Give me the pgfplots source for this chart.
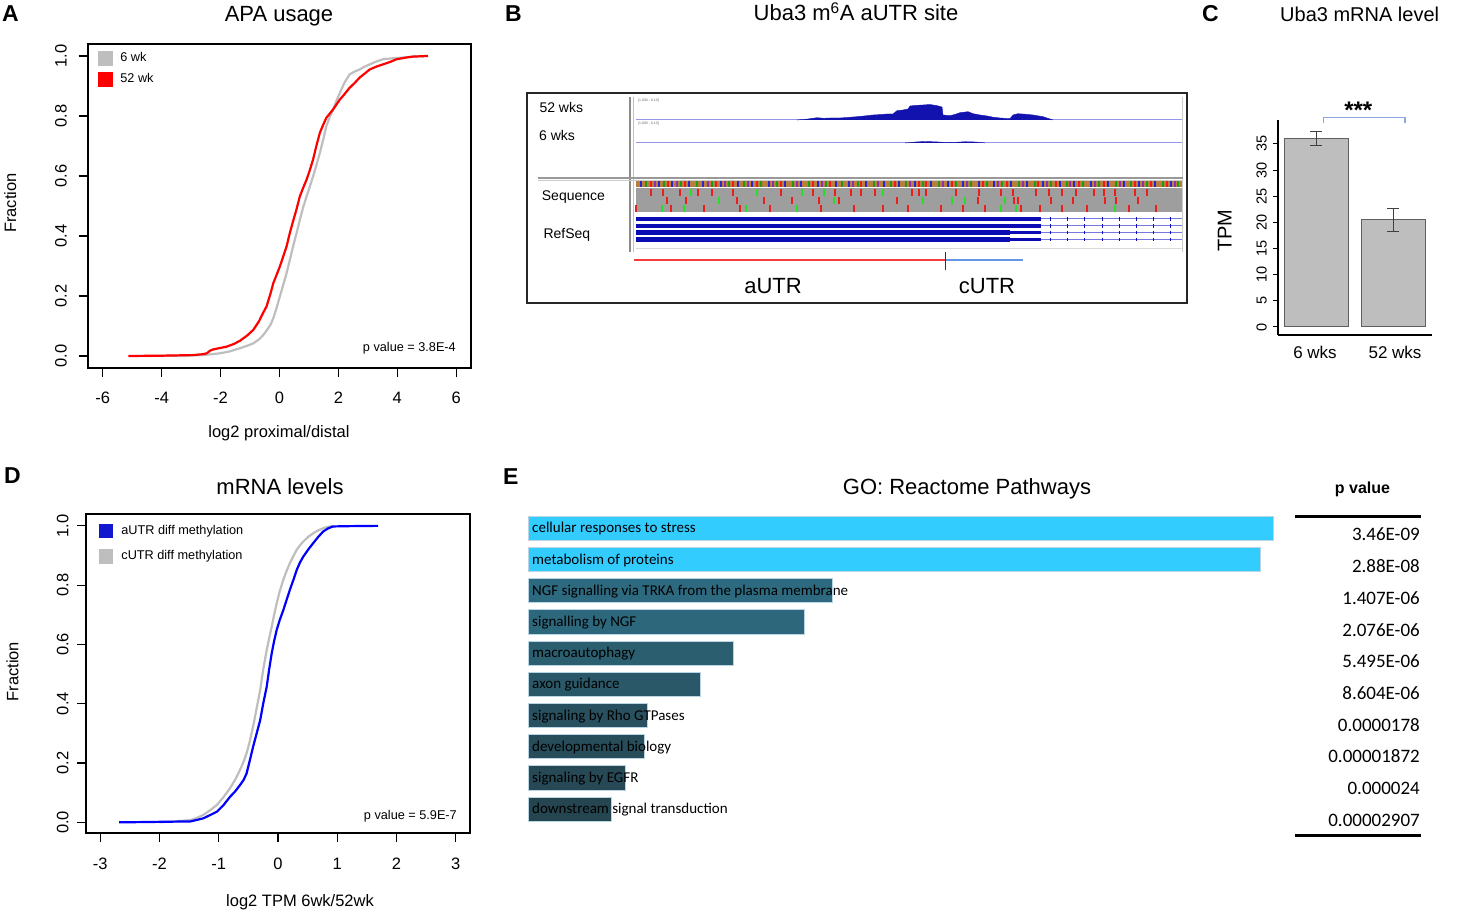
\documentclass[border=0pt]{standalone}
\usepackage{pgfplots}
\pgfplotsset{compat=1.18}
\usepackage{fontspec}
\setmainfont{Liberation Sans}
\newfontfamily\carlito{Carlito}
\newcommand\fs[1]{\fontsize{#1}{#1}\selectfont}
\definecolor{rgray}{RGB}{190,190,190}
\definecolor{rred}{RGB}{255,0,0}
\definecolor{rblue}{RGB}{0,0,255}
\definecolor{sqblue}{RGB}{18,24,205}
\definecolor{covblue}{RGB}{18,18,175}
\definecolor{trackline}{RGB}{150,150,235}
\definecolor{refblue}{RGB}{12,12,180}
\definecolor{refthin}{RGB}{120,120,225}
\definecolor{seqgray}{RGB}{158,158,158}
\definecolor{stripbase}{RGB}{185,125,60}
\definecolor{sred}{RGB}{235,30,30}
\definecolor{sgreen}{RGB}{40,220,40}
\definecolor{sblue}{RGB}{40,40,210}
\definecolor{spurple}{RGB}{140,50,170}
\definecolor{autrred}{RGB}{245,60,60}
\definecolor{cutrblue}{RGB}{100,150,230}
\definecolor{bracketblue}{RGB}{140,170,225}
\definecolor{barfill}{RGB}{190,190,190}
\definecolor{bardraw}{RGB}{95,95,95}
\definecolor{cyanbar}{RGB}{51,204,255}
\definecolor{barline}{RGB}{185,212,226}
\definecolor{tA}{RGB}{45,106,128}
\definecolor{tB}{RGB}{45,103,124}
\definecolor{tC}{RGB}{43,94,111}
\definecolor{tD}{RGB}{42,88,104}
\definecolor{tE}{RGB}{40,80,94}
\definecolor{tF}{RGB}{39,77,90}
\definecolor{tG}{RGB}{38,73,85}
\definecolor{tH}{RGB}{37,69,80}
\begin{document}
\begin{tikzpicture}
\path[use as bounding box] (0pt,0pt) rectangle (1459pt,912pt);

% ---------------- Panel A ----------------
\begin{axis}[at={(88pt,544pt)}, anchor=south west, scale only axis,
  width=383pt, height=324pt,
  xmin=-6.5, xmax=6.5, ymin=-0.04, ymax=1.04,
  xtick={-6,-4,-2,0,2,4,6}, ytick={0,0.2,0.4,0.6,0.8,1},
  xticklabels={}, yticklabels={},
  xtick pos=bottom, ytick pos=left, tick align=outside, major tick length=9.5pt,
  every tick/.style={black, line width=1.2pt},
  axis line style={black, line width=1.2pt},
  legend style={at={(axis cs:-6.1504,1.0153)}, anchor=north west, draw=none, fill=none,
    inner sep=0pt, outer sep=0pt, font=\fs{12.7}, row sep=7.3pt,
    nodes={inner sep=0pt, text depth=0pt, anchor=base west},
    cells={anchor=base west},
    /tikz/every odd column/.append style={column sep=8.4pt}},
  legend image code/.code={\fill (0pt,-3pt) rectangle (13.3pt,10.3pt);},
  legend cell align=left]
\addlegendimage{color=rgray}
\addlegendentry{6 wk}
\addlegendimage{color=rred}
\addlegendentry{52 wk}
\addplot[color=rgray, line width=2.2pt, forget plot] coordinates {
(-4.9,0)(-3.2,0.001)(-2.6,0.003)(-2.3,0.006)(-2.02,0.009)(-1.7,0.015)(-1.34,0.026)(-1.1,0.034)(-0.89,0.042)(-0.7,0.055)(-0.55,0.07)(-0.4,0.09)(-0.3,0.105)(-0.21,0.126)(-0.1,0.16)(0.01,0.198)(0.12,0.235)(0.24,0.276)(0.35,0.32)(0.46,0.365)(0.58,0.41)(0.69,0.454)(0.8,0.495)(0.92,0.532)(1.03,0.565)(1.14,0.599)(1.25,0.635)(1.37,0.677)(1.48,0.72)(1.59,0.766)(1.7,0.795)(1.82,0.822)(1.93,0.85)(2.05,0.877)(2.2,0.91)(2.38,0.939)(2.55,0.948)(2.72,0.955)(2.9,0.965)(3.06,0.972)(3.3,0.982)(3.51,0.989)(3.8,0.992)(4.08,0.994)(4.53,0.998)(5.0,1.0)};
\addplot[color=rred, line width=2.2pt, forget plot] coordinates {
(-5.13,0)(-4.0,0.001)(-2.93,0.003)(-2.6,0.006)(-2.47,0.009)(-2.35,0.018)(-2.25,0.022)(-2.0,0.027)(-1.8,0.031)(-1.55,0.04)(-1.34,0.051)(-1.1,0.068)(-0.89,0.087)(-0.7,0.115)(-0.55,0.145)(-0.44,0.165)(-0.3,0.21)(-0.21,0.243)(-0.1,0.27)(0.01,0.298)(0.12,0.33)(0.24,0.365)(0.35,0.41)(0.46,0.449)(0.58,0.49)(0.69,0.532)(0.8,0.56)(0.92,0.588)(1.03,0.62)(1.14,0.655)(1.25,0.7)(1.37,0.744)(1.48,0.77)(1.59,0.794)(1.82,0.822)(2.05,0.855)(2.2,0.872)(2.38,0.894)(2.55,0.91)(2.72,0.928)(2.9,0.942)(3.06,0.955)(3.3,0.965)(3.51,0.972)(3.75,0.98)(3.97,0.989)(4.25,0.994)(4.53,0.998)(5.04,1.0)};
\end{axis}

% ---------------- Panel D ----------------
\begin{axis}[at={(86pt,79pt)}, anchor=south west, scale only axis,
  width=384pt, height=319pt,
  xmin=-3.24, xmax=3.24, ymin=-0.036, ymax=1.04,
  xtick={-3,-2,-1,0,1,2,3}, ytick={0,0.2,0.4,0.6,0.8,1},
  xticklabels={}, yticklabels={},
  xtick pos=bottom, ytick pos=left, tick align=outside, major tick length=9pt,
  every tick/.style={black, line width=1.2pt},
  axis line style={black, line width=1.2pt},
  legend style={at={(axis cs:-3.0206,1.0073)}, anchor=north west, draw=none, fill=none,
    inner sep=0pt, outer sep=0pt, font=\fs{12.7}, row sep=12pt,
    nodes={inner sep=0pt, text depth=0pt, anchor=base west},
    cells={anchor=base west},
    /tikz/every odd column/.append style={column sep=8.7pt}},
  legend image code/.code={\fill (0pt,-3pt) rectangle (13.3pt,10.3pt);},
  legend cell align=left]
\addlegendimage{color=sqblue}
\addlegendentry{aUTR diff methylation}
\addlegendimage{color=rgray}
\addlegendentry{cUTR diff methylation}
\addplot[color=rgray, line width=2.2pt, forget plot] coordinates {
(-2.0,0)(-1.76,0.003)(-1.48,0.0075)(-1.37,0.015)(-1.26,0.025)(-1.15,0.04)(-1.03,0.059)(-0.92,0.085)(-0.81,0.115)(-0.72,0.145)(-0.64,0.177)(-0.58,0.205)(-0.53,0.233)(-0.48,0.27)(-0.42,0.323)(-0.36,0.385)(-0.30,0.447)(-0.25,0.515)(-0.19,0.582)(-0.15,0.62)(-0.106,0.66)(-0.065,0.70)(-0.022,0.739)(0.03,0.78)(0.09,0.818)(0.145,0.848)(0.2,0.874)(0.26,0.898)(0.315,0.919)(0.37,0.934)(0.426,0.947)(0.51,0.963)(0.595,0.975)(0.68,0.985)(0.763,0.992)(0.85,0.997)(0.93,1.0)};
\addplot[color=rblue, line width=2.2pt, forget plot] coordinates {
(-2.68,0)(-2.2,0.001)(-1.88,0.002)(-1.48,0.003)(-1.37,0.008)(-1.26,0.0135)(-1.15,0.024)(-1.03,0.036)(-0.92,0.058)(-0.81,0.086)(-0.72,0.105)(-0.64,0.126)(-0.58,0.143)(-0.53,0.165)(-0.48,0.205)(-0.42,0.255)(-0.36,0.3)(-0.30,0.345)(-0.25,0.4)(-0.19,0.458)(-0.15,0.515)(-0.106,0.570)(-0.065,0.612)(-0.022,0.649)(0.03,0.683)(0.09,0.716)(0.145,0.75)(0.2,0.784)(0.26,0.818)(0.315,0.851)(0.37,0.876)(0.426,0.896)(0.51,0.92)(0.595,0.942)(0.68,0.963)(0.763,0.981)(0.85,0.992)(0.93,0.998)(1.2,0.999)(1.69,1.0)};
\end{axis}

% ---------------- Panel C ----------------
\begin{axis}[at={(1278.3pt,577pt)}, anchor=south west, scale only axis,
  width=153.4pt, height=215pt,
  xmin=0.51, xmax=2.497, ymin=-1.53, ymax=39.58,
  axis x line=bottom, axis y line=left,
  axis line style={-, black, line width=1.8pt},
  xtick=\empty, ytick={0,5,10,15,20,25,30,35}, yticklabels={},
  tick align=outside, major tick length=5.7pt,
  every tick/.style={black, line width=1pt}]
\addplot[ybar, bar width=64pt, bar shift=0pt, fill=barfill, draw=bardraw, line width=1pt,
  error bars/.cd, y dir=both, y explicit, error mark=-,
  error bar style={line width=1pt, black!75},
  error mark options={rotate=90, line width=1pt, black!75, mark size=6pt}]
  coordinates {(1,36.1) +- (0,1.35) (2,20.5) +- (0,2.25)};
\end{axis}

% ---------------- Panel E ----------------
\begin{axis}[at={(903.5pt,243.3pt)}, anchor=center, scale only axis,
  width=750pt, height=312pt,
  xmin=0, xmax=750, ymin=-0.5, ymax=9.5, y dir=reverse,
  axis lines=none, clip=false]
\addplot[xbar, bar width=24.3pt, bar shift=0pt, fill=cyanbar, draw=barline, line width=0.8pt] coordinates {(744.5,0)(731.5,1)};
\addplot[xbar, bar width=24.3pt, bar shift=0pt, fill=tA, draw=barline, line width=0.8pt] coordinates {(304,2)};
\addplot[xbar, bar width=24.3pt, bar shift=0pt, fill=tB, draw=barline, line width=0.8pt] coordinates {(275.5,3)};
\addplot[xbar, bar width=24.3pt, bar shift=0pt, fill=tC, draw=barline, line width=0.8pt] coordinates {(205,4)};
\addplot[xbar, bar width=24.3pt, bar shift=0pt, fill=tD, draw=barline, line width=0.8pt] coordinates {(172,5)};
\addplot[xbar, bar width=24.3pt, bar shift=0pt, fill=tE, draw=barline, line width=0.8pt] coordinates {(119,6)};
\addplot[xbar, bar width=24.3pt, bar shift=0pt, fill=tF, draw=barline, line width=0.8pt] coordinates {(115.5,7)};
\addplot[xbar, bar width=24.3pt, bar shift=0pt, fill=tG, draw=barline, line width=0.8pt] coordinates {(97,8)};
\addplot[xbar, bar width=24.3pt, bar shift=0pt, fill=tH, draw=barline, line width=0.8pt] coordinates {(83,9)};
\end{axis}

% ---------------- Panel B (genome browser view), image pixel coordinates ----------------
\begin{axis}[at={(729.5pt,456pt)}, anchor=center, scale only axis,
  width=1459pt, height=912pt,
  xmin=0, xmax=1459, ymin=0, ymax=912, y dir=reverse,
  axis lines=none, clip=false]
\draw[black!85, line width=1.8pt] (axis cs:527,93) rectangle (axis cs:1187,303);
\draw[black!45, line width=1.2pt] (axis cs:630,97) -- (axis cs:630,252);
\draw[black!25, line width=0.8pt] (axis cs:633,97) -- (axis cs:633,252);
\draw[black!20, line width=0.8pt] (axis cs:1182,97) -- (axis cs:1182,252);
\draw[black!40, line width=1.2pt] (axis cs:538,178) -- (axis cs:1183,178);
\draw[black!20, line width=0.8pt] (axis cs:538,180.3) -- (axis cs:1183,180.3);
\draw[black!15, line width=0.8pt] (axis cs:636,248) -- (axis cs:1182,248);
% coverage tracks
\addplot[trackline, line width=1pt] coordinates {(636,120)(1182,120)};
\addplot[trackline, line width=1pt] coordinates {(636,143)(1182,143)};
\addplot[fill=covblue, draw=covblue, line width=0.4pt] coordinates {
(797,120)(808,119)(817,117.7)(824,118.3)(830,118)(840,118)(848,117.4)(857,116.7)(866,115.8)(873,115)(880,114.6)(887,114)(893,114)(897,110.7)(903,110)(908,109)(910,106)(916,105.4)(923,105)(930,104.5)(937,105.7)(942,107)(943,115)(950,115.7)(955,114.4)(960,112.7)(968,111.7)(973,113.7)(980,115)(987,116)(993,117.2)(1000,118)(1010,118.7)(1013,115)(1018,113.7)(1025,114.2)(1033,115)(1043,116.7)(1050,119)(1053,120)};
\addplot[fill=covblue, draw=covblue, line width=0.4pt] coordinates {
(905,143)(912,142.4)(917,141.9)(925,141.5)(937,141.9)(945,142.5)(958,142.2)(965,141.7)(975,142)(982,142.6)(985,143)};
% sequence track
\fill[stripbase] (axis cs:636,181.5) rectangle (axis cs:1182,187.5);
\fill[seqgray] (axis cs:636,188.5) rectangle (axis cs:1182,212);
\addplot[only marks, mark=|, mark size=3pt, color=sblue, mark options={line width=1.6pt}] coordinates {
(641,184.5)(659,184.5)(672,184.5)(689,184.5)(703,184.5)(721,184.5)(738,184.5)(752,184.5)(769,184.5)(785,184.5)(801,184.5)(818,184.5)(836,184.5)(849,184.5)(866,184.5)(884,184.5)(899,184.5)(915,184.5)(931,184.5)(948,184.5)(963,184.5)(979,184.5)(994,184.5)(1011,184.5)(1027,184.5)(1043,184.5)(1060,184.5)(1074,184.5)(1091,184.5)(1108,184.5)(1124,184.5)(1139,184.5)(1155,184.5)(1171,184.5)};
\addplot[only marks, mark=|, mark size=3pt, color=sgreen!70!black, mark options={line width=1.6pt}] coordinates {
(646,184.5)(664,184.5)(681,184.5)(697,184.5)(712,184.5)(729,184.5)(744,184.5)(761,184.5)(777,184.5)(793,184.5)(809,184.5)(826,184.5)(842,184.5)(858,184.5)(874,184.5)(891,184.5)(906,184.5)(923,184.5)(939,184.5)(956,184.5)(971,184.5)(987,184.5)(1002,184.5)(1019,184.5)(1035,184.5)(1051,184.5)(1067,184.5)(1083,184.5)(1099,184.5)(1116,184.5)(1131,184.5)(1147,184.5)(1163,184.5)(1178,184.5)};
\addplot[only marks, mark=|, mark size=3pt, color=sred, mark options={line width=1.6pt}] coordinates {
(651,184.5)(668,184.5)(685,184.5)(716,184.5)(733,184.5)(757,184.5)(781,184.5)(813,184.5)(830,184.5)(861,184.5)(895,184.5)(919,184.5)(926,184.5)(952,184.5)(983,184.5)(1007,184.5)(1038,184.5)(1056,184.5)(1079,184.5)(1104,184.5)(1135,184.5)(1151,184.5)(1167,184.5)};
\addplot[only marks, mark=|, mark size=3pt, color=spurple, mark options={line width=1.6pt}] coordinates {
(655,184.5)(677,184.5)(708,184.5)(725,184.5)(748,184.5)(773,184.5)(797,184.5)(822,184.5)(853,184.5)(878,184.5)(910,184.5)(943,184.5)(967,184.5)(998,184.5)(1023,184.5)(1047,184.5)(1070,184.5)(1095,184.5)(1120,184.5)(1143,184.5)(1175,184.5)};
\addplot[only marks, mark=|, mark size=3.7pt, color=sred, mark options={line width=1.5pt}] coordinates {
(651,192.3)(663,192.3)(680,192.3)(698,192.3)(712,192.3)(733,192.3)(781,192.3)(813,192.3)(835,192.3)(851,192.3)(861,192.3)(875,192.3)(912,192.3)(919,192.3)(926,192.3)(956,192.3)(979,192.3)(1001,192.3)(1013,192.3)(1036,192.3)(1049,192.3)(1062,192.3)(1076,192.3)(1094,192.3)(1104,192.3)(1115,192.3)(1135,192.3)(1147,192.3)
(667,200.5)(686,200.5)(737,200.5)(764,200.5)(792,200.5)(819,200.5)(839,200.5)(897,200.5)(978,200.5)(1014,200.5)(1018,200.5)(1051,200.5)(1073,200.5)(1105,200.5)(1116,200.5)(1138,200.5)
(636,208.5)(671,208.5)(704,208.5)(740,208.5)(770,208.5)(821,208.5)(854,208.5)(883,208.5)(908,208.5)(941,208.5)(963,208.5)(985,208.5)(1021,208.5)(1040,208.5)(1062,208.5)(1087,208.5)(1129,208.5)(1156,208.5)};
\addplot[only marks, mark=|, mark size=3.7pt, color=sgreen, mark options={line width=1.5pt}] coordinates {
(691,192.3)(757,192.3)(802,192.3)(824,192.3)(883,192.3)
(719,200.5)(834,200.5)(923,200.5)(952,200.5)(965,200.5)(1005,200.5)
(662,208.5)(684,208.5)(746,208.5)(797,208.5)(1001,208.5)(1016,208.5)(1115,208.5)};
% RefSeq
\addplot[refthin, line width=1pt, unbounded coords=jump] coordinates {
(1041,219)(1182,219)(1182,nan)(1041,226)(1182,226)(1182,nan)(1041,232.7)(1182,232.7)(1182,nan)(1041,239.3)(1182,239.3)};
\addplot[refblue, line width=4.5pt, unbounded coords=jump] coordinates {
(636,219)(1010,219)(1010,nan)(636,226)(1010,226)(1010,nan)(636,232.7)(1010,232.7)(1010,nan)(636,239.3)(1010,239.3)};
\addplot[refblue, line width=3.4pt, unbounded coords=jump] coordinates {
(1009,219)(1041,219)(1041,nan)(1009,226)(1041,226)(1041,nan)(1009,232.7)(1041,232.7)(1041,nan)(1009,239.3)(1041,239.3)};
\addplot[only marks, mark=|, mark size=1.6pt, color=refblue, mark options={line width=1pt}] coordinates {
(1050,219)(1067,219)(1084,219)(1102,219)(1119,219)(1136,219)(1153,219)(1170,219)
(1050,226)(1067,226)(1084,226)(1102,226)(1119,226)(1136,226)(1153,226)(1170,226)
(1050,232.7)(1067,232.7)(1084,232.7)(1102,232.7)(1119,232.7)(1136,232.7)(1153,232.7)(1170,232.7)
(1050,239.3)(1067,239.3)(1084,239.3)(1102,239.3)(1119,239.3)(1136,239.3)(1153,239.3)(1170,239.3)};
% aUTR / cUTR
\addplot[autrred, line width=1.2pt] coordinates {(634,260)(945,260)};
\addplot[cutrblue, line width=1.2pt] coordinates {(945,260)(1023,260)};
\addplot[black!80, line width=1pt] coordinates {(945,252)(945,270)};
% C bracket and E rules
\draw[bracketblue, line width=1.2pt] (axis cs:1323.3,123.3) -- (axis cs:1323.3,117.3) -- (axis cs:1405,117.3) -- (axis cs:1405,123.3);
\draw[black, line width=2.5pt] (axis cs:1295,516.5) -- (axis cs:1421,516.5);
\draw[black, line width=2.5pt] (axis cs:1295,835.5) -- (axis cs:1421,835.5);
\end{axis}

% ---------------- All text, in image pixel coordinates ----------------
\begin{scope}[shift={(0pt,912pt)}, x=1pt, y=-1pt]
% panel letters
\node[anchor=base west, font=\fs{23}\bfseries, inner sep=0pt] at (2,21.5) {A};
\node[anchor=base west, font=\fs{23}\bfseries, inner sep=0pt] at (505,21.5) {B};
\node[anchor=base west, font=\fs{23}\bfseries, inner sep=0pt] at (1202,21.5) {C};
\node[anchor=base west, font=\fs{23}\bfseries, inner sep=0pt] at (4,483.5) {D};
\node[anchor=base west, font=\fs{23}\bfseries, inner sep=0pt] at (503,485) {E};
% titles
\node[anchor=base, font=\fs{22}, inner sep=0pt] at (279,21.7) {APA usage};
\node[anchor=base, font=\fs{22}, inner sep=0pt] at (856,20.7) {Uba3 m\textsuperscript{6}A aUTR site};
\node[anchor=base west, font=\fs{20}, inner sep=0pt] at (1280,21.7) {Uba3 mRNA level};
\node[anchor=base, font=\fs{22}, inner sep=0pt] at (280,495) {mRNA levels};
\node[anchor=base, font=\fs{22}, inner sep=0pt] at (967,495) {GO: Reactome Pathways};
% Panel A texts
\foreach \v/\x in {-6/102.7,-4/161.6,-2/220.5,0/279.5,2/338.4,4/397.3,6/456.3}
  {\node[anchor=base, font=\fs{16.5}, inner sep=0pt] at (\x,403.3) {\v};}
\foreach \v/\y in {0.0/356,0.2/296,0.4/236,0.6/176,0.8/116,1.0/56}
  {\node[rotate=90, anchor=base, font=\fs{16.5}, inner sep=0pt] at (66.7,\y) {\v};}
\node[anchor=base, font=\fs{16.5}, inner sep=0pt] at (279,437.3) {log2 proximal/distal};
\node[rotate=90, anchor=base, font=\fs{16.5}, inner sep=0pt] at (16,203) {Fraction};
\node[anchor=base east, font=\fs{12.7}, inner sep=0pt] at (456,351.7) {p value = 3.8E-4};
% Panel D texts
\foreach \v/\x in {-3/100.2,-2/159.5,-1/218.7,0/278,1/337.3,2/396.5,3/455.8}
  {\node[anchor=base, font=\fs{16.5}, inner sep=0pt] at (\x,869.3) {\v};}
\foreach \v/\y in {0.0/822.3,0.2/763,0.4/703.7,0.6/644.4,0.8/585.1,1.0/525.9}
  {\node[rotate=90, anchor=base, font=\fs{16.5}, inner sep=0pt] at (68.3,\y) {\v};}
\node[anchor=base, font=\fs{16.5}, inner sep=0pt] at (300,906.7) {log2 TPM 6wk/52wk};
\node[rotate=90, anchor=base, font=\fs{16.5}, inner sep=0pt] at (18.3,671.7) {Fraction};
\node[anchor=base east, font=\fs{12.7}, inner sep=0pt] at (457,819.3) {p value = 5.9E-7};
% Panel C texts
\foreach \v/\y in {0/327,5/300.9,10/274.7,15/248.6,20/222.4,25/196.3,30/170.1,35/143.9}
  {\node[rotate=90, anchor=base, font=\fs{14.5}, inner sep=0pt] at (1266.7,\y) {\v};}
\node[rotate=90, anchor=base, font=\fs{20}, inner sep=0pt] at (1231.7,230.8) {TPM};
\node[anchor=base, font=\fs{17}, inner sep=0pt] at (1315,358.3) {6 wks};
\node[anchor=base, font=\fs{17}, inner sep=0pt] at (1395,358.3) {52 wks};
\node[anchor=base, font=\fs{24}\bfseries, inner sep=0pt] at (1358.3,118.5) {***};
% Panel B texts
\node[anchor=base west, font=\fs{14}, inner sep=0pt] at (539.3,113) {52 wks};
\node[anchor=base west, font=\fs{14}, inner sep=0pt] at (539,141) {6 wks};
\node[anchor=base west, font=\fs{14}, inner sep=0pt] at (541.7,200.7) {Sequence};
\node[anchor=base west, font=\fs{14}, inner sep=0pt] at (543.3,238.7) {RefSeq};
\node[anchor=west, font=\fs{3.5}, inner sep=0pt, text=black!60] at (638,101) {[1.000 - 6.10]};
\node[anchor=west, font=\fs{3.5}, inner sep=0pt, text=black!60] at (638,124) {[1.000 - 6.10]};
\node[anchor=base, font=\fs{22}, inner sep=0pt] at (773,293.3) {aUTR};
\node[anchor=base, font=\fs{22}, inner sep=0pt] at (987,293.3) {cUTR};
% Panel E texts
\foreach \t [count=\k from 0] in {cellular responses to stress, metabolism of proteins, NGF signalling via TRKA from the plasma membrane, signalling by NGF, macroautophagy, axon guidance, signaling by Rho GTPases, developmental biology, signaling by EGFR, downstream signal transduction}
  {\node[anchor=base west, font=\carlito\fs{15}, inner sep=0pt] at (532,{533+31.2*\k}) {\t};}
\node[anchor=base, font=\fs{16}\bfseries, inner sep=0pt] at (1362.5,494) {p value};
\foreach \t [count=\k from 0] in {3.46E-09, 2.88E-08, 1.407E-06, 2.076E-06, 5.495E-06, 8.604E-06, 0.0000178, 0.00001872, 0.000024, 0.00002907}
  {\node[anchor=base east, font=\carlito\fs{19}, inner sep=0pt] at (1420,{541+31.7*\k}) {\t};}
\end{scope}
\end{tikzpicture}
\end{document}
